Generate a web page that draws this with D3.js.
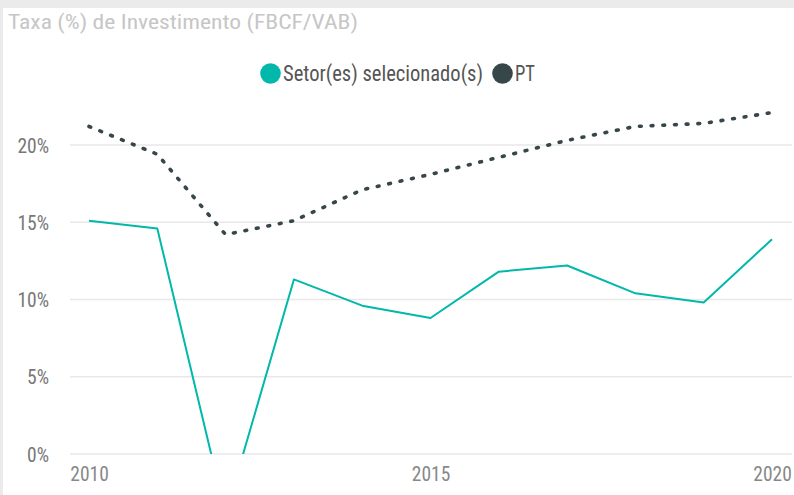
<!DOCTYPE html>
<html><head><meta charset="utf-8">
<script src="https://cdn.jsdelivr.net/npm/d3@7"></script>
<style>body{margin:0;background:#fff;}svg{display:block;font-family:"Liberation Sans Narrow","Roboto Condensed","DejaVu Sans Condensed",sans-serif;}</style>
</head><body><svg id="c" width="794" height="495"></svg>
<script>
const years = [2010,2011,2012,2013,2014,2015,2016,2017,2018,2019,2020];
const setor = [15.1,14.6,-3.9,11.3,9.6,8.8,11.8,12.2,10.4,9.8,13.9];
const pt = [21.2,19.4,14.2,15.1,17.1,18.1,19.2,20.3,21.2,21.4,22.1];
const yTicks = [0,5,10,15,20];
const xTicks = [2010,2015,2020];
const seriesNames = ["Setor(es) selecionado(s)","PT"];
const colors = ["#01B8AA","#374649"];

const svg = d3.select("#c");
svg.append("rect").attr("x",0).attr("y",0).attr("width",794).attr("height",495).attr("fill","#ebebeb");
svg.append("rect").attr("x",3).attr("y",8).attr("width",791).attr("height",487).attr("fill","#fff");

svg.append("text").attr("x",8).attr("y",28.5).attr("font-size",19.5).attr("fill","#c6c6c6")
  .attr("textLength",350).attr("lengthAdjust","spacingAndGlyphs").text("Taxa (%) de Investimento (FBCF/VAB)");

const x = d3.scaleLinear().domain([2010,2020]).range([89,772]);
const y = d3.scaleLinear().domain([0,20]).range([454,145]);

const grid = svg.append("g");
grid.selectAll("line").data(yTicks).join("line")
  .attr("x1",70).attr("x2",792).attr("y1",d=>y(d)).attr("y2",d=>y(d))
  .attr("stroke","#e8e8e8").attr("stroke-width",1.5);

const yAxis = svg.append("g").attr("transform","translate(49,0)")
  .call(d3.axisLeft(y).tickValues(yTicks).tickFormat(d=>d+"%").tickSize(0).tickPadding(0));
yAxis.select(".domain").remove();
yAxis.attr("font-family",null).selectAll("text").attr("font-size",19.5).attr("fill","#777").attr("dy","0.36em");

const xAxis = svg.append("g").attr("transform","translate(0,467)")
  .call(d3.axisBottom(x).tickValues(xTicks).tickFormat(d3.format("d")).tickSize(0).tickPadding(0));
xAxis.select(".domain").remove();
xAxis.attr("font-family",null).selectAll("text").attr("font-size",19.5).attr("fill","#888").attr("dy","0.71em");

svg.append("clipPath").attr("id","clip").append("rect").attr("x",60).attr("y",90).attr("width",734).attr("height",364);
const plot = svg.append("g").attr("clip-path","url(#clip)");
const line = d3.line().x((d,i)=>x(years[i])).y(d=>y(d));
plot.append("path").attr("d",line(setor)).attr("fill","none").attr("stroke",colors[0]).attr("stroke-width",2).attr("stroke-linejoin","round");
plot.append("path").attr("d",line(pt)).attr("fill","none").attr("stroke",colors[1]).attr("stroke-width",3.6)
  .attr("stroke-linecap","round").attr("stroke-dasharray","1.8 9.9");

const leg = svg.append("g");
const lx = [270.5,502.5];
const lw = [200,20];
seriesNames.forEach((n,i)=>{
  leg.append("circle").attr("cx",lx[i]).attr("cy",73.5).attr("r",10.3).attr("fill",colors[i]);
  leg.append("text").attr("x",lx[i]+12.5).attr("y",80.5).attr("font-size",21.5).attr("fill","#555")
    .attr("textLength",lw[i]).attr("lengthAdjust","spacingAndGlyphs").text(n);
});
</script></body></html>
